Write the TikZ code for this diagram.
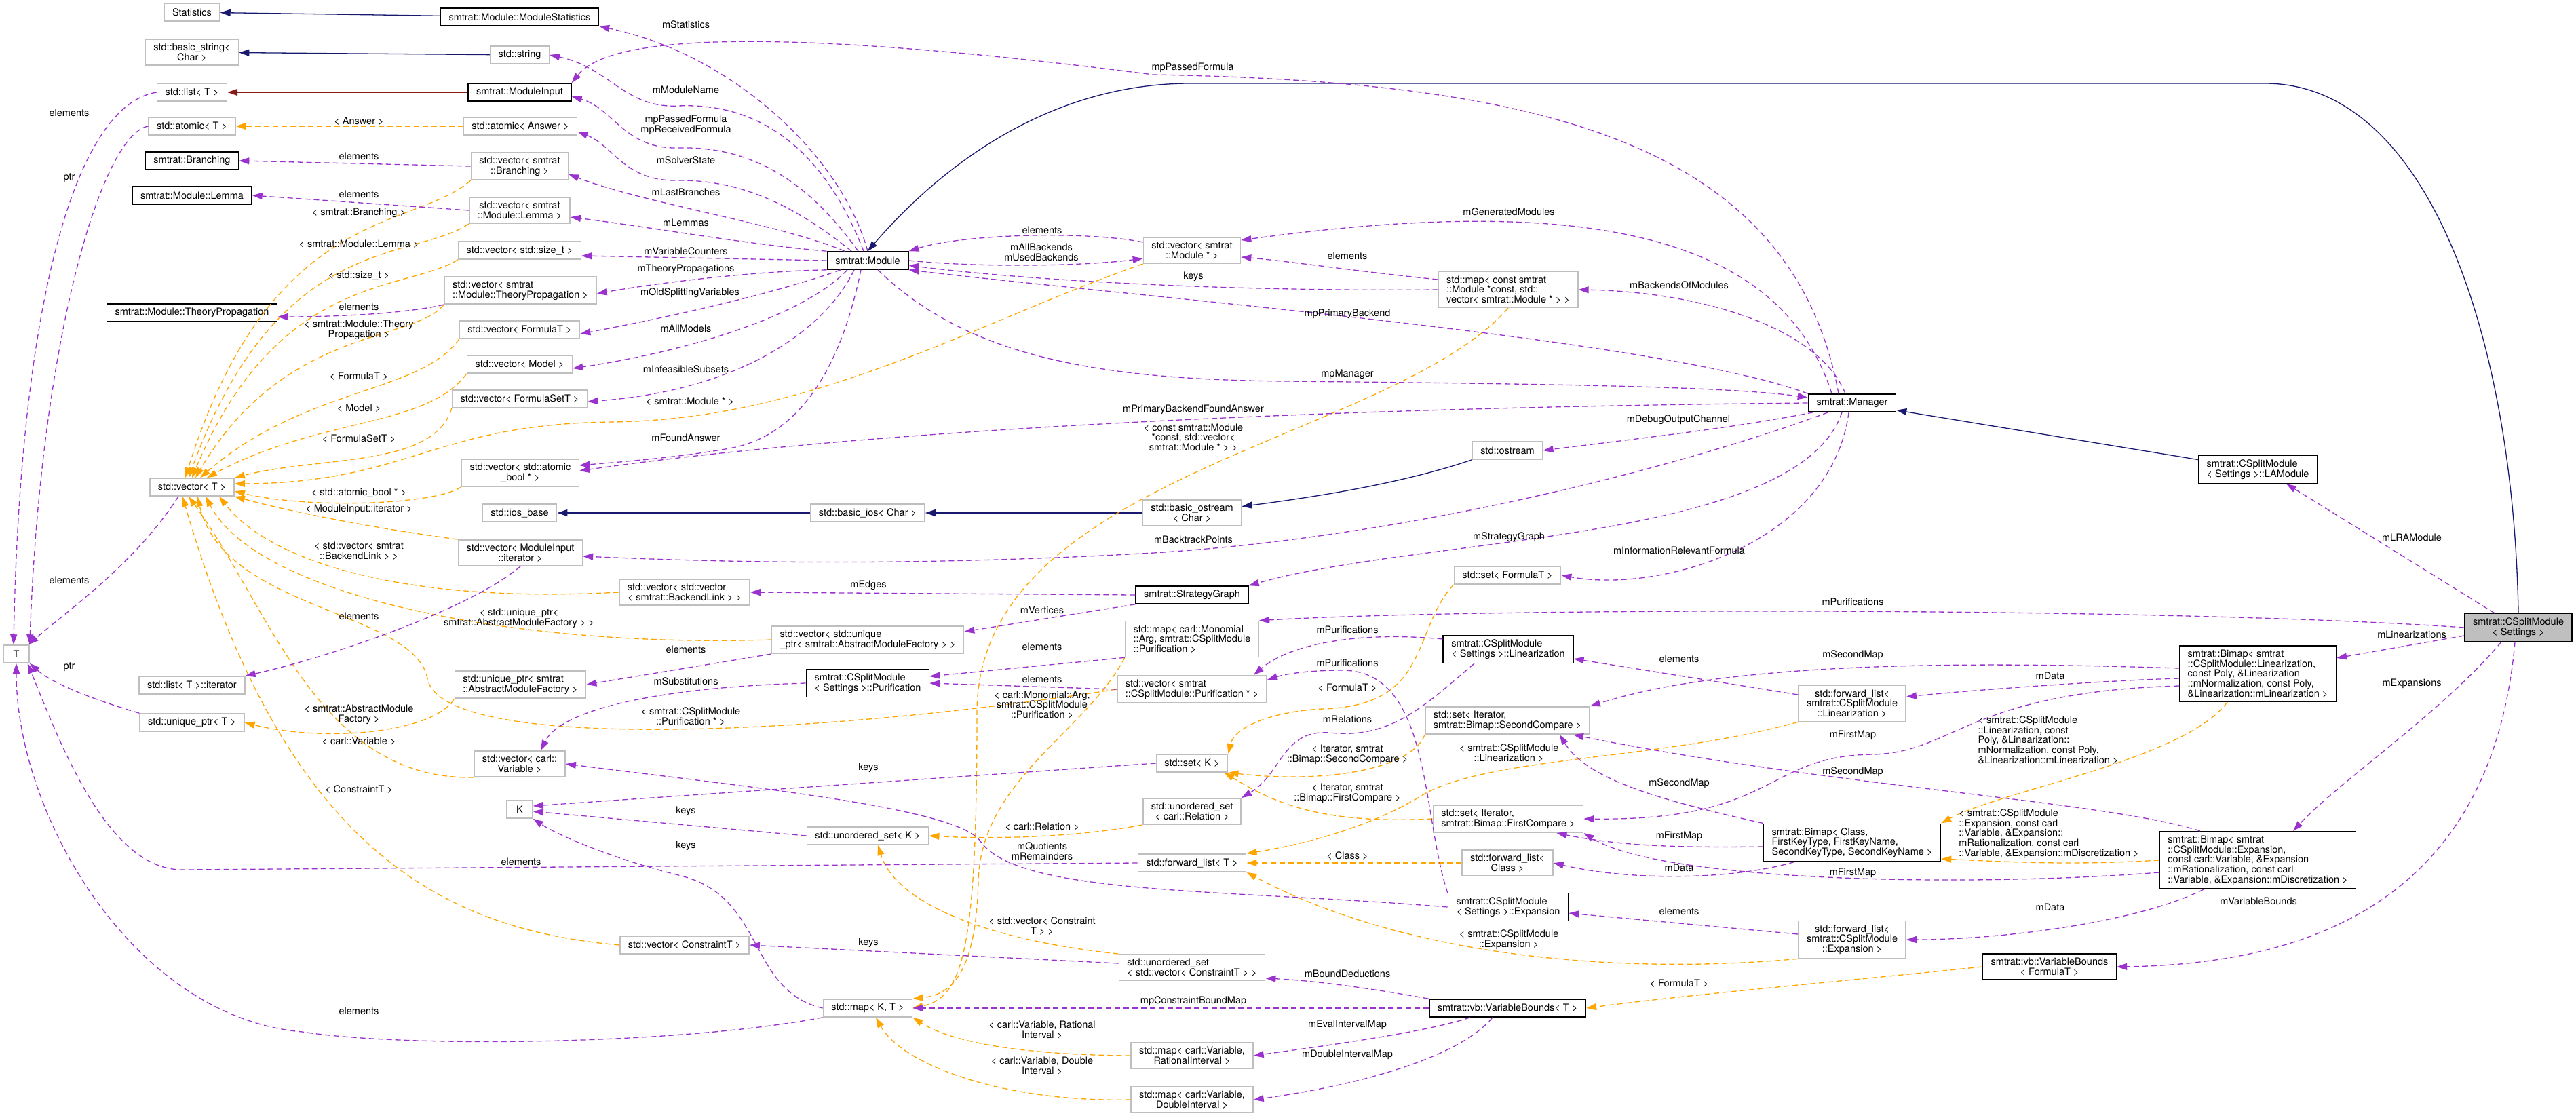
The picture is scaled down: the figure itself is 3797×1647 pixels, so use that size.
\documentclass[tikz,border=0pt]{standalone}
\usepackage{fontspec}
\usepackage{tikz}
\usepackage{xcolor}
\usetikzlibrary{arrows.meta}
\newfontfamily\dxfont{TeX Gyre Heros}
\definecolor{dxpurple}{HTML}{9A32CD}
\definecolor{dxorange}{HTML}{FFA500}
\definecolor{dxnavy}{HTML}{191970}
\definecolor{dxred}{HTML}{8B1A1A}
\definecolor{dxgrey}{HTML}{BFBFBF}

\begin{document}
\begin{tikzpicture}[x=1pt,y=-1pt,
  every node/.style={font=\dxfont\fontsize{14.5}{14.7}\selectfont},
  cls/.style={draw=dxgrey,line width=1.6pt,fill=white,inner xsep=12pt,inner ysep=6pt,
    minimum height=26pt,minimum width=38pt,align=center},
  bcls/.style={cls,draw=black},
  mainbox/.style={bcls,fill=dxgrey},
  lft/.style={align=left},
  lab/.style={inner sep=0pt,align=center,text=black},
  usage/.style={dxpurple,line width=1.3pt,dash pattern=on 8pt off 5pt,-{Triangle[length=15pt,width=10pt]}},
  tmpl/.style={usage,dxorange},
  inherit/.style={dxnavy,line width=1.3pt,-{Triangle[length=15pt,width=10pt]}},
  privinh/.style={inherit,dxred}]
\useasboundingbox (0,0) rectangle (3797,1647);

\node[cls] (stat) at (283,18) {Statistics};
\node[cls] (bstr) at (283,77) {std::basic\_string<\\Char >};
\node[cls] (lst) at (283,136) {std::list< T >};
\node[cls] (atm) at (283,186) {std::atomic< T >};
\node[bcls] (brn) at (283,237) {smtrat::Branching};
\node[bcls] (lem) at (283,288) {smtrat::Module::Lemma};
\node[bcls] (tprop) at (283,461) {smtrat::Module::TheoryPropagation};
\node[cls] (vecT) at (283,718) {std::vector< T >};
\node[cls] (lstit) at (283,1010) {std::list< T >::iterator};
\node[cls] (uptr) at (283,1065) {std::unique\_ptr< T >};
\node[cls] (T) at (24,964) {T};

\node[bcls] (mstat) at (766,25) {smtrat::Module::ModuleStatistics};
\node[cls] (str) at (766,81) {std::string};
\node[bcls] (minp) at (766,136) {smtrat::ModuleInput};
\node[cls] (atmA) at (767,186) {std::atomic< Answer >};
\node[cls] (vbrn) at (766,245) {std::vector< smtrat\\::Branching >};
\node[cls] (vlem) at (766,310) {std::vector< smtrat\\::Module::Lemma >};
\node[cls] (vsz) at (766,369) {std::vector< std::size\_t >};
\node[cls,lft] (vtp) at (767,428) {std::vector< smtrat\\::Module::TheoryPropagation >};
\node[cls] (vfml) at (766,486) {std::vector< FormulaT >};
\node[cls] (vmdl) at (766,537) {std::vector< Model >};
\node[cls] (vfset) at (766,588) {std::vector< FormulaSetT >};
\node[cls] (vatb) at (767,697) {std::vector< std::atomic\\\_bool * >};
\node[cls] (iosb) at (766,756) {std::ios\_base};
\node[cls] (vmit) at (767,815) {std::vector< ModuleInput\\::iterator >};
\node[cls,lft] (uamf) at (767,1009) {std::unique\_ptr< smtrat\\::AbstractModuleFactory >};
\node[cls] (vvar) at (766,1126) {std::vector< carl::\\Variable >};
\node[cls] (K) at (766,1193) {K};

\node[cls,lft] (vvbl) at (1009,873) {std::vector< std::vector\\< smtrat::BackendLink > >};
\node[cls] (vcon) at (1009,1393) {std::vector< ConstraintT >};

\node[bcls] (mod) at (1279,384) {smtrat::Module};
\node[cls] (bios) at (1279,756) {std::basic\_ios< Char >};
\node[cls,lft] (vuamf) at (1279,943) {std::vector< std::unique\\\_ptr< smtrat::AbstractModuleFactory > >};
\node[bcls,lft] (pur) at (1279,1007) {smtrat::CSplitModule\\< Settings >::Purification};
\node[cls] (usK) at (1279,1232) {std::unordered\_set< K >};
\node[cls] (mapKT) at (1279,1486) {std::map< K, T >};

\node[cls] (vmod) at (1757,369) {std::vector< smtrat\\::Module * >};
\node[cls] (bost) at (1757,756) {std::basic\_ostream\\< Char >};
\node[bcls] (sgr) at (1757,877) {smtrat::StrategyGraph};
\node[cls,lft] (mmon) at (1757,942) {std::map< carl::Monomial\\::Arg, smtrat::CSplitModule\\::Purification >};
\node[cls,lft] (vpur) at (1757,1016) {std::vector< smtrat\\::CSplitModule::Purification * >};
\node[cls] (setK) at (1757,1125) {std::set< K >};
\node[cls] (usrel) at (1757,1196) {std::unordered\_set\\< carl::Relation >};
\node[cls] (flT) at (1757,1272) {std::forward\_list< T >};
\node[cls,lft] (usvc) at (1757,1426) {std::unordered\_set\\< std::vector< ConstraintT > >};
\node[cls] (mrat) at (1757,1556) {std::map< carl::Variable,\\RationalInterval >};
\node[cls] (mdbl) at (1757,1621) {std::map< carl::Variable,\\DoubleInterval >};

\node[cls,lft] (mmap) at (2223,427) {std::map< const smtrat\\::Module *const, std::\\vector< smtrat::Module * > >};
\node[cls] (ostr) at (2222,664) {std::ostream};
\node[cls] (setF) at (2222,848) {std::set< FormulaT >};
\node[bcls,lft] (lin) at (2223,957) {smtrat::CSplitModule\\< Settings >::Linearization};
\node[cls,lft] (setSC) at (2222,1062) {std::set< Iterator,\\smtrat::Bimap::SecondCompare >};
\node[cls,lft] (setFC) at (2223,1207) {std::set< Iterator,\\smtrat::Bimap::FirstCompare >};
\node[cls] (flC) at (2222,1272) {std::forward\_list<\\Class >};
\node[bcls,lft] (exp) at (2223,1337) {smtrat::CSplitModule\\< Settings >::Expansion};
\node[bcls] (vbT) at (2222,1486) {smtrat::vb::VariableBounds< T >};

\node[bcls] (mgr) at (2730,594) {smtrat::Manager};
\node[cls] (fllin) at (2730,1037) {std::forward\_list<\\smtrat::CSplitModule\\::Linearization >};
\node[bcls,lft] (bmC) at (2730,1242) {smtrat::Bimap< Class,\\FirstKeyType, FirstKeyName,\\SecondKeyType, SecondKeyName >};
\node[cls] (flexp) at (2730,1385) {std::forward\_list<\\smtrat::CSplitModule\\::Expansion >};

\node[bcls,lft] (lam) at (3328,692) {smtrat::CSplitModule\\< Settings >::LAModule};
\node[bcls,lft] (bmL) at (3328,993) {smtrat::Bimap< smtrat\\::CSplitModule::Linearization,\\const Poly, \&Linearization\\::mNormalization, const Poly,\\\&Linearization::mLinearization >};
\node[bcls,lft] (bmE) at (3328,1268) {smtrat::Bimap< smtrat\\::CSplitModule::Expansion,\\const carl::Variable, \&Expansion\\::mRationalization, const carl\\::Variable, \&Expansion::mDiscretization >};
\node[bcls] (vbF) at (3021,1425) {smtrat::vb::VariableBounds\\< FormulaT >};
\node[mainbox] (csm) at (3712,925) {smtrat::CSplitModule\\< Settings >};

\draw[inherit] (mstat) -- (stat);
\draw[inherit] (str) -- (bstr);
\draw[privinh] (minp) -- (lst);
\draw[inherit] (bost) -- (bios);
\draw[inherit] (bios) -- (iosb);
\draw[inherit] (ostr.south west) .. controls (2060,715) and (1920,735) .. (bost);
\draw[inherit] (lam) -- (mgr);
\draw[inherit] (csm.north) .. controls (3705,500) and (3580,123) .. (3339,123) -- (1754,123)
  .. controls (1560,123) and (1400,230) .. (mod.north);

\draw[tmpl] (atmA) -- (atm) node[lab] at (529,179) {< Answer >};
\draw[tmpl] (vbrn.south west) .. controls (610,340) and (400,300) .. ([xshift=-10pt]vecT.north)
  node[lab] at (529,314) {< smtrat::Branching >};
\draw[tmpl] (vlem.south west) .. controls (610,385) and (410,340) .. ([xshift=-5pt]vecT.north)
  node[lab] at (529,360) {< smtrat::Module::Lemma >};
\draw[tmpl] (vsz.south west) .. controls (600,430) and (410,400) .. (vecT.north)
  node[lab] at (529,406) {< std::size\_t >};
\draw[tmpl] (vtp.south west) .. controls (610,505) and (420,480) .. ([xshift=5pt]vecT.north)
  node[lab] at (529,486) {< smtrat::Module::Theory\\Propagation >};
\draw[tmpl] (vfml.south west) .. controls (620,580) and (450,570) .. ([xshift=12pt]vecT.north)
  node[lab] at (529,555) {< FormulaT >};
\draw[tmpl] (vmdl.south west) .. controls (630,630) and (470,615) .. ([xshift=22pt]vecT.north)
  node[lab] at (529,602) {< Model >};
\draw[tmpl] (vfset.south west) .. controls (640,690) and (470,672) .. (vecT.north east)
  node[lab] at (529,647) {< FormulaSetT >};
\draw[tmpl] (vmod.south west) .. controls (1450,470) and (1200,620) .. (900,622)
  .. controls (640,625) and (600,712) .. ([yshift=5pt]vecT.east)
  node[lab] at (1017,592) {< smtrat::Module * >};
\draw[tmpl] (vatb.south west) .. controls (640,745) and (450,750) .. ([yshift=-6pt]vecT.east)
  node[lab] at (529,726) {< std::atomic\_bool * >};
\draw[tmpl] (vmit.north west) .. controls (560,780) and (430,755) .. (vecT.south east)
  node[lab] at (529,751) {< ModuleInput::iterator >};
\draw[tmpl] (vvbl.west) .. controls (600,890) and (400,830) .. ([xshift=40pt]vecT.south)
  node[lab] at (529,812) {< std::vector< smtrat\\::BackendLink > >};
\draw[tmpl] (vuamf.west) .. controls (760,955) and (380,880) .. ([xshift=20pt]vecT.south)
  node[lab] at (765,911) {< std::unique\_ptr<\\smtrat::AbstractModuleFactory > >};
\draw[tmpl] (vpur.west) .. controls (1200,1085) and (650,1110) .. (630,1000)
  .. controls (610,900) and (330,900) .. ([xshift=8pt]vecT.south)
  node[lab] at (1018,1056) {< smtrat::CSplitModule\\::Purification * >};
\draw[tmpl] (vvar.south west) .. controls (470,1150) and (400,900) .. ([xshift=-5pt]vecT.south)
  node[lab] at (529,1093) {< carl::Variable >};
\draw[tmpl] (vcon.west) .. controls (650,1370) and (420,1250) .. ([xshift=-14pt]vecT.south)
  node[lab] at (529,1164) {< ConstraintT >};
\draw[tmpl] (uamf.south west) .. controls (640,1080) and (480,1095) .. (uptr.east)
  node[lab] at (529,1053) {< smtrat::AbstractModule\\Factory >};
\draw[tmpl] (mmap.south) .. controls (2050,650) and (1440,700) .. (1440,1050)
  .. controls (1440,1400) and (1420,1470) .. (mapKT.east)
  node[lab] at (1759,645) {< const smtrat::Module\\*const, std::vector<\\smtrat::Module * > >};
\draw[tmpl] (mmon.south west) .. controls (1600,1080) and (1445,1150) .. (1442,1300)
  .. controls (1438,1440) and (1400,1466) .. (mapKT.north east)
  node[lab] at (1536,1039) {< carl::Monomial::Arg,\\smtrat::CSplitModule\\::Purification >};
\draw[tmpl] (mrat.west) .. controls (1500,1555) and (1400,1535) .. (mapKT.south east)
  node[lab] at (1536,1518) {< carl::Variable, Rational\\Interval >};
\draw[tmpl] (mdbl.west) .. controls (1480,1625) and (1330,1570) .. ([xshift=12pt]mapKT.south)
  node[lab] at (1536,1571) {< carl::Variable, Double\\Interval >};
\draw[tmpl] (usvc.north west) .. controls (1450,1385) and (1320,1330) .. ([xshift=15pt]usK.south)
  node[lab] at (1536,1365) {< std::vector< Constraint\\T > >};
\draw[tmpl] (usrel.south west) .. controls (1600,1232) and (1480,1238) .. (usK.east)
  node[lab] at (1536,1219) {< carl::Relation >};
\draw[tmpl] (setF.south west) .. controls (2080,930) and (2110,1040) .. (1950,1045)
  .. controls (1880,1048) and (1820,1070) .. (setK.north east)
  node[lab] at (1986,1014) {< FormulaT >};
\draw[tmpl] (setSC.south west) .. controls (2080,1135) and (1950,1155) .. (setK.south east)
  node[lab] at (1986,1112) {< Iterator, smtrat\\::Bimap::SecondCompare >};
\draw[tmpl] (setFC.west) .. controls (1950,1215) and (1880,1185) .. ([xshift=-6pt]setK.south east)
  node[lab] at (1986,1169) {< Iterator, smtrat\\::Bimap::FirstCompare >};
\draw[tmpl] (fllin.south west) .. controls (2450,1120) and (2200,1115) .. (2100,1170)
  .. controls (2020,1220) and (1920,1245) .. (flT.north east)
  node[lab] at (2224,1110) {< smtrat::CSplitModule\\::Linearization >};
\draw[tmpl] (flC) -- (flT) node[lab] at (1986,1262) {< Class >};
\draw[tmpl] (flexp.south west) .. controls (2350,1440) and (2050,1400) .. (flT.south east)
  node[lab] at (2224,1385) {< smtrat::CSplitModule\\::Expansion >};
\draw[tmpl] ([xshift=-45pt]bmL.south) .. controls (3220,1120) and (2950,1165) .. (bmC.north east)
  node[lab,align=left] at (3019,1091) {< smtrat::CSplitModule\\::Linearization, const\\Poly, \&Linearization::\\mNormalization, const Poly,\\\&Linearization::mLinearization >};
\draw[tmpl] (bmE.west) .. controls (3050,1276) and (2950,1270) .. ([yshift=-24pt]bmC.east)
  node[lab,align=left] at (3020,1229) {< smtrat::CSplitModule\\::Expansion, const carl\\::Variable, \&Expansion::\\mRationalization, const carl\\::Variable, \&Expansion::mDiscretization >};
\draw[tmpl] (vbF.west) .. controls (2700,1448) and (2500,1465) .. (vbT.east)
  node[lab] at (2475,1450) {< FormulaT >};

\draw[usage] (mod.north) .. controls (1240,230) and (1080,80) .. (mstat.south east)
  node[lab] at (1011,36) {mStatistics};
\draw[usage] ([xshift=-6pt]mod.north) .. controls (1230,260) and (1150,150) .. (1000,156)
  .. controls (920,160) and (900,100) .. (str.east)
  node[lab] at (1011,132) {mModuleName};
\draw[usage] ([xshift=-14pt]mod.north) .. controls (1200,280) and (1120,215) .. (1000,218)
  .. controls (920,220) and (905,160) .. ([yshift=-6pt]minp.east)
  node[lab] at (1011,184) {mpPassedFormula\\mpReceivedFormula};
\draw[usage] ([xshift=-24pt]mod.north) .. controls (1180,310) and (1100,265) .. (1000,266)
  .. controls (920,268) and (905,215) .. ([yshift=-8pt]atmA.east)
  node[lab] at (1011,236) {mSolverState};
\draw[usage] ([xshift=-34pt]mod.north) .. controls (1150,330) and (950,300) .. ([yshift=-12pt]vbrn.east)
  node[lab] at (1011,283) {mLastBranches};
\draw[usage] (mod.north west) .. controls (1100,360) and (960,335) .. ([yshift=-10pt]vlem.east)
  node[lab] at (1011,328) {mLemmas};
\draw[usage] (mod.west) -- ([yshift=-8pt]vsz.east)
  node[lab] at (1011,370) {mVariableCounters};
\draw[usage] (mod.south west) .. controls (1100,400) and (950,420) .. ([yshift=-5pt]vtp.east)
  node[lab] at (1011,397) {mTheoryPropagations};
\draw[usage] ([xshift=-40pt]mod.south) .. controls (1150,430) and (1000,465) .. ([yshift=-6pt]vfml.east)
  node[lab] at (1017,432) {mOldSplittingVariables};
\draw[usage] ([xshift=-30pt]mod.south) .. controls (1180,470) and (1000,520) .. ([yshift=-6pt]vmdl.east)
  node[lab] at (1011,484) {mAllModels};
\draw[usage] ([xshift=-20pt]mod.south) .. controls (1220,480) and (1100,575) .. ([yshift=-4pt]vfset.east)
  node[lab] at (1011,544) {mInfeasibleSubsets};
\draw[usage] ([xshift=-10pt]mod.south) .. controls (1240,540) and (1180,640) .. (1080,660)
  .. controls (1000,675) and (900,682) .. ([yshift=11pt]vatb.east)
  node[lab] at (1011,645) {mFoundAnswer};
\draw[usage] ([xshift=15pt]mod.south) .. controls (1420,520) and (1600,560) .. (1900,562)
  .. controls (2300,566) and (2550,570) .. ([yshift=8pt]mgr.west)
  node[lab] at (1986,552) {mpManager};
\draw[usage] (mgr.north west) .. controls (2450,500) and (1700,440) .. (mod.south east)
  node[lab] at (1986,463) {mpPrimaryBackend};
\draw[usage] ([yshift=12pt]vmod.west) .. controls (1600,340) and (1420,345) .. (mod.north east)
  node[lab] at (1536,339) {elements};
\draw[usage] (mod.east) .. controls (1450,395) and (1600,392) .. ([yshift=-12pt]vmod.west)
  node[lab] at (1535,372) {mAllBackends\\mUsedBackends};
\draw[usage] (mmap.west) .. controls (1800,430) and (1500,412) .. ([yshift=-7pt]mod.east)
  node[lab] at (1759,408) {keys};
\draw[usage] ([yshift=15pt]mmap.west) .. controls (2000,400) and (1900,385) .. ([yshift=-10pt]vmod.east)
  node[lab] at (1986,377) {elements};
\draw[usage] ([xshift=-30pt]mgr.north) .. controls (2620,330) and (2300,290) .. ([yshift=15pt]vmod.east)
  node[lab] at (2224,312) {mGeneratedModules};
\draw[usage] ([xshift=-20pt]mgr.north) .. controls (2640,200) and (2250,120) .. (1700,110)
  .. controls (1150,40) and (900,50) .. (minp.north east)
  node[lab] at (1758,100) {mpPassedFormula};
\draw[usage] ([xshift=-10pt]mgr.north) .. controls (2680,480) and (2500,430) .. (mmap.east)
  node[lab] at (2475,420) {mBackendsOfModules};
\draw[usage] (mgr.west) .. controls (2000,600) and (1300,630) .. ([yshift=3pt]vatb.east)
  node[lab] at (1759,604) {mPrimaryBackendFoundAnswer};
\draw[usage] ([xshift=30pt]mgr.south west) .. controls (2500,680) and (2100,790) .. (1700,815)
  .. controls (1300,838) and (1000,826) .. ([yshift=-5pt]vmit.east)
  node[lab] at (1759,795) {mBacktrackPoints};
\draw[usage] ([xshift=8pt]mgr.south west) .. controls (2550,632) and (2400,648) .. (ostr.east)
  node[lab] at (2474,619) {mDebugOutputChannel};
\draw[usage] ([xshift=-15pt]mgr.south) .. controls (2650,800) and (2100,790) .. (sgr.north east)
  node[lab] at (2224,792) {mStrategyGraph};
\draw[usage] ([xshift=-5pt]mgr.south) .. controls (2700,800) and (2450,875) .. (setF.east)
  node[lab] at (2475,811) {mInformationRelevantFormula};
\draw[usage] (sgr.west) -- (vvbl.east) node[lab] at (1280,863) {mEdges};
\draw[usage] (sgr.south west) -- ([yshift=12pt]vuamf.east) node[lab] at (1536,899) {mVertices};
\draw[usage] (vuamf.south west) -- (uamf.east) node[lab] at (1011,957) {elements};
\draw[usage] (vmit.south) .. controls (690,900) and (480,970) .. (lstit.north east)
  node[lab] at (529,908) {elements};
\draw[usage] (pur.west) .. controls (1000,1012) and (830,1040) .. ([xshift=31pt]vvar.north)
  node[lab] at (1011,1004) {mSubstitutions};
\draw[usage] (exp.west) .. controls (1800,1310) and (1500,1320) .. (1445,1240)
  .. controls (1410,1190) and (1100,1160) .. (vvar.east)
  node[lab] at (1536,1255) {mQuotients\\mRemainders};
\draw[usage] (mmon.south west) -- ([yshift=10pt]pur.east) node[lab] at (1536,953) {elements};
\draw[usage] (vpur.west) -- (pur.east) node[lab] at (1536,1001) {elements};
\draw[usage] (csm.west) .. controls (3200,895) and (2200,895) .. (mmon.north east)
  node[lab] at (2731,887) {mPurifications};
\draw[usage] ([yshift=15pt]lin.west) .. controls (2000,930) and (1900,950) .. ([xshift=-20pt]vpur.north east)
  node[lab] at (1986,928) {mPurifications};
\draw[usage] (exp.north west) .. controls (2095,1200) and (2110,990) .. (1980,988)
  .. controls (1920,988) and (1890,995) .. ([yshift=14pt]vpur.east)
  node[lab] at (1986,977) {mPurifications};
\draw[usage] ([xshift=-50pt]lin.south) .. controls (2100,1040) and (2050,1090) .. (1960,1080)
  .. controls (1890,1075) and (1890,1140) .. (usrel.north east)
  node[lab] at (1986,1060) {mRelations};
\draw[usage] ([yshift=13pt]fllin.west) -- ([yshift=-14pt]lin.east) node[lab] at (2475,971) {elements};
\draw[usage] ([yshift=-7pt]bmL.west) .. controls (3100,1003) and (2900,1018) .. ([yshift=10pt]fllin.east)
  node[lab] at (3022,996) {mData};
\draw[usage] ([yshift=8pt]bmL.west) .. controls (2900,975) and (2550,975) .. (setSC.north east)
  node[lab] at (2731,966) {mSecondMap};
\draw[usage] ([yshift=-18pt]bmL.west) .. controls (2900,1020) and (2880,1110) .. (2760,1112)
  .. controls (2600,1114) and (2620,1210) .. (setFC.east)
  node[lab] at (2731,1084) {mFirstMap};
\draw[usage] ([xshift=-85pt]bmE.north) .. controls (3100,1180) and (2700,1160) .. ([xshift=-25pt]setSC.south east)
  node[lab] at (2731,1138) {mSecondMap};
\draw[usage] ([yshift=-18pt]bmE.west) .. controls (2900,1308) and (2450,1300) .. (setFC.south east)
  node[lab] at (2731,1287) {mFirstMap};
\draw[usage] ([xshift=-80pt]bmE.south) .. controls (3150,1360) and (2950,1385) .. (flexp.east)
  node[lab] at (3022,1337) {mData};
\draw[usage] ([yshift=-6pt]bmC.west) .. controls (2450,1250) and (2380,1245) .. ([xshift=-40pt]setFC.south east)
  node[lab] at (2475,1233) {mFirstMap};
\draw[usage] (bmC.north west) .. controls (2450,1180) and (2340,1150) .. ([xshift=-45pt]setSC.south east)
  node[lab] at (2475,1155) {mSecondMap};
\draw[usage] ([xshift=-85pt]bmC.south) .. controls (2550,1298) and (2400,1298) .. (flC.east)
  node[lab] at (2475,1279) {mData};
\draw[usage] ([yshift=8pt]flexp.west) -- ([yshift=-9pt]exp.east) node[lab] at (2475,1343) {elements};
\draw[usage] ([xshift=-35pt]csm.north) -- ([xshift=42pt]lam.south) node[lab] at (3555,792) {mLRAModule};
\draw[usage] ([yshift=-12pt]csm.west) -- ([yshift=23pt]bmL.east) node[lab] at (3555,935) {mLinearizations};
\draw[usage] ([xshift=-25pt]csm.south) .. controls (3600,1050) and (3450,1150) .. ([xshift=52pt]bmE.north)
  node[lab] at (3555,1008) {mExpansions};
\draw[usage] ([xshift=-5pt]csm.south) .. controls (3680,1250) and (3500,1420) .. (vbF.east)
  node[lab] at (3329,1328) {mVariableBounds};
\draw[usage] (vbT.north west) .. controls (2050,1462) and (1950,1446) .. ([yshift=-16pt]usvc.east)
  node[lab] at (1986,1435) {mBoundDeductions};
\draw[usage] (vbT.west) -- (mapKT.east) node[lab] at (1759,1476) {mpConstraintBoundMap};
\draw[usage] ([xshift=-55pt]vbT.south) .. controls (2100,1522) and (1950,1542) .. (mrat.east)
  node[lab] at (1986,1511) {mEvalIntervalMap};
\draw[usage] ([xshift=-22pt]vbT.south) .. controls (2150,1560) and (2000,1600) .. (mdbl.east)
  node[lab] at (1986,1555) {mDoubleIntervalMap};
\draw[usage] ([yshift=6pt]usvc.west) -- (vcon.east) node[lab] at (1280,1390) {keys};
\draw[usage] (setK.west) -- ([yshift=5pt]K.east) node[lab] at (1280,1132) {keys};
\draw[usage] (usK.west) -- ([yshift=-3pt]K.east) node[lab] at (1011,1196) {keys};
\draw[usage] (mapKT.west) .. controls (1100,1460) and (1130,1320) .. (1000,1290)
  .. controls (900,1265) and (820,1230) .. (K.south east)
  node[lab] at (1011,1247) {keys};
\draw[usage] (flT.west) -- (268,1282) .. controls (160,1282) and (90,1100) .. ([xshift=-3pt]T.south east)
  node[lab] at (768,1270) {elements};
\draw[usage] (mapKT.south west) .. controls (1000,1540) and (600,1545) .. (446,1521)
  .. controls (196,1500) and (24,1200) .. (T.south)
  node[lab] at (529,1490) {elements};
\draw[usage] (lst.west) .. controls (110,155) and (30,450) .. ([xshift=-4pt]T.north)
  node[lab] at (102,166) {elements};
\draw[usage] (atm.west) .. controls (150,198) and (60,500) .. (T.north east)
  node[lab] at (102,262) {ptr};
\draw[usage] ([xshift=-20pt]vecT.south) .. controls (200,830) and (100,900) .. ([xshift=-2pt]T.north east)
  node[lab] at (102,855) {elements};
\draw[usage] (uptr.north west) .. controls (150,1035) and (80,1010) .. (T.south east)
  node[lab] at (102,983) {ptr};
\draw[usage] (vbrn.west) -- (brn.east) node[lab] at (529,230) {elements};
\draw[usage] (vlem.west) -- (lem.east) node[lab] at (529,286) {elements};
\draw[usage] (vtp.south west) .. controls (600,462) and (500,467) .. ([yshift=-6pt]tprop.east)
  node[lab] at (529,452) {elements};
\end{tikzpicture}
\end{document}
